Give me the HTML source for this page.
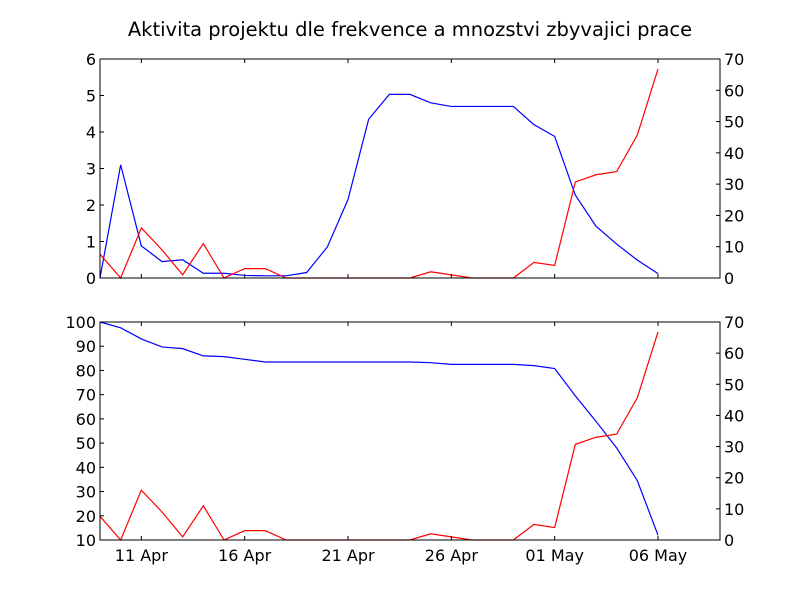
<!DOCTYPE html>
<html><head><meta charset="utf-8"><style>
body{margin:0;background:#fff}
svg text{font-family:"DejaVu Sans","Liberation Sans",sans-serif;font-size:16px;fill:#000}
</style></head><body>
<svg id="c" width="800" height="600" xmlns="http://www.w3.org/2000/svg">
<rect width="800" height="600" fill="#fff"/>
<text x="410" y="36" text-anchor="middle" style="font-size:19.5px">Aktivita projektu dle frekvence a mnozstvi zbyvajici prace</text>
</svg>
<script>
const days=['09 Apr','10 Apr','11 Apr','12 Apr','13 Apr','14 Apr','15 Apr','16 Apr','17 Apr','18 Apr','19 Apr','20 Apr','21 Apr','22 Apr','23 Apr','24 Apr','25 Apr','26 Apr','27 Apr','28 Apr','29 Apr','30 Apr','01 May','02 May','03 May','04 May','05 May','06 May'];
const topBlue=[0,3.1,0.88,0.45,0.5,0.13,0.13,0.07,0.06,0.06,0.15,0.85,2.15,4.35,5.03,5.03,4.8,4.7,4.7,4.7,4.7,4.2,3.88,2.27,1.42,0.93,0.49,0.12];
const redVals=[7.6,0,16,9,1,11,0,3,3,0,0,0,0,0,0,0,2,1,0,0,0,5,4,30.7,33,34,45.7,66.8];
const bottomBlue=[100,97.6,93,89.7,89,86,85.7,84.6,83.5,83.5,83.5,83.5,83.5,83.5,83.5,83.5,83.2,82.5,82.5,82.5,82.5,82,80.8,69.5,59,48,34.5,12];
const xTickIdx=[2,7,12,17,22,27];
const xTickLabels=['11 Apr','16 Apr','21 Apr','26 Apr','01 May','06 May'];
const topLeftTicks=[0,1,2,3,4,5,6];
const rightTicks=[0,10,20,30,40,50,60,70];
const botLeftTicks=[10,20,30,40,50,60,70,80,90,100];

const svg=document.getElementById('c');
const NS='http://www.w3.org/2000/svg';
const X0=100,X1=720;
const xs=i=>X0+(i)*(X1-X0)/30;
function el(t,a){const e=document.createElementNS(NS,t);for(const k in a)e.setAttribute(k,a[k]);svg.appendChild(e);return e;}
function panel(name,top,bot,lmin,lmax,leftTicks,blue,showX){
  const yl=v=>bot-(v-lmin)/(lmax-lmin)*(bot-top);
  const yr=v=>bot-v/70*(bot-top);
  const mk=(vals,f,col,nm)=>{
    const p=el('polyline',{points:vals.map((v,i)=>xs(i)+','+f(v)).join(' '),fill:'none',stroke:col,'stroke-width':1.2});
    
    
  };
  mk(blue,yl,'#0000ff',name+'-blue-line');
  mk(redVals,yr,'#ff0000',name+'-red-line');
  const fr=el('rect',{x:X0,y:top,width:X1-X0,height:bot-top,fill:'none',stroke:'#000','stroke-width':1});
  
  
  leftTicks.forEach(v=>{const y=yl(v);el('line',{x1:X0,x2:X0+4,y1:y,y2:y,stroke:'#000'});
    const t=el('text',{x:X0-4,y:y+6,'text-anchor':'end'});t.textContent=v;
    
    });
  rightTicks.forEach(v=>{const y=yr(v);el('line',{x1:X1-4,x2:X1,y1:y,y2:y,stroke:'#000'});
    const t=el('text',{x:X1+4,y:y+6,'text-anchor':'start'});t.textContent=v;
    
    });
  xTickIdx.forEach((d,k)=>{const x=xs(d);
    el('line',{x1:x,x2:x,y1:bot,y2:bot-4,stroke:'#000'});
    el('line',{x1:x,x2:x,y1:top,y2:top+4,stroke:'#000'});
    if(showX){const t=el('text',{x:x,y:bot+21,'text-anchor':'middle'});t.textContent=xTickLabels[k];
      
      }
  });
}
panel('top-panel',59,278,0,6,topLeftTicks,topBlue,false);
panel('bottom-panel',322,540,10,100,botLeftTicks,bottomBlue,true);
</script>
</body></html>
